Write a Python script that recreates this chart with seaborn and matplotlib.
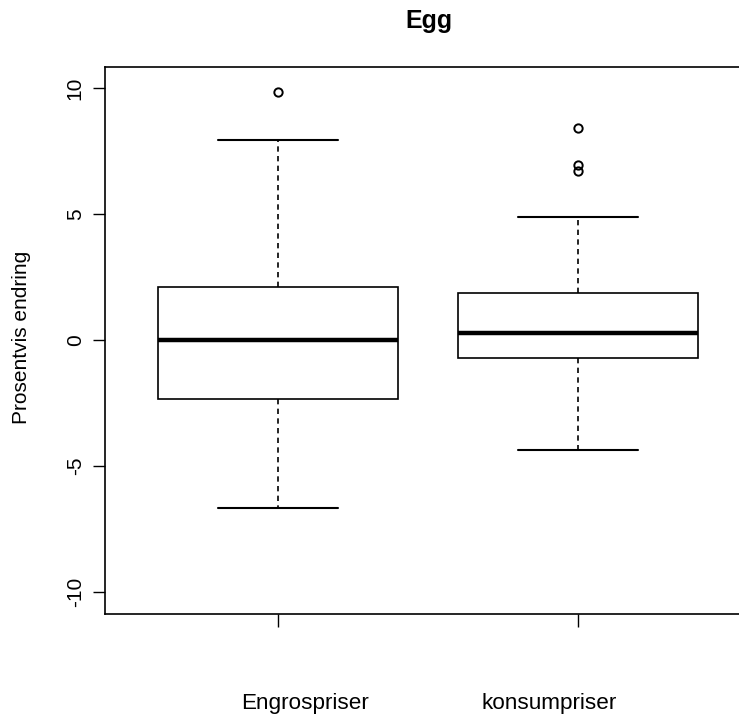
import matplotlib
matplotlib.use("Agg")
import matplotlib.pyplot as plt
import matplotlib.transforms as mtransforms
import seaborn as sns
import pandas as pd

# ---- data ----
categories = ["Engrospriser", "konsumpriser"]
# sample points reproducing the five-number summaries and outliers
engros_values = [-6.65, -2.35, -2.35, 0.0, 0.0, 0.0, 2.12, 7.95, 9.85]
konsum_values = [-4.35, -0.7, -0.7, -0.7, -0.7, 0.28, 0.28, 0.28, 0.28,
                 1.85, 1.85, 1.85, 1.85, 4.9, 6.7, 6.95, 8.4]
y_ticks = [-10, -5, 0, 5, 10]
title = "Egg"
y_label = "Prosentvis endring"
label_offsets = [0.09, -0.097]   # x-label horizontal offsets (category units)

df = pd.DataFrame({
    "gruppe": [categories[0]] * len(engros_values) + [categories[1]] * len(konsum_values),
    "verdi": engros_values + konsum_values,
})

sns.set_style("ticks")
plt.rcParams["font.family"] = ["Liberation Sans", "DejaVu Sans"]
plt.rcParams["axes.unicode_minus"] = False

W, H = 739, 717
fig = plt.figure(figsize=(W / 100, H / 100), dpi=100)
ax_left, ax_right, ax_top, ax_bottom = 105, 752, 67, 614
ax = fig.add_axes([ax_left / W, (H - ax_bottom) / H,
                   (ax_right - ax_left) / W, (ax_bottom - ax_top) / H])

lw = 1.2
sns.boxplot(
    data=df, x="gruppe", y="verdi", order=categories, ax=ax,
    color="white", saturation=1, linecolor="black", linewidth=lw,
    width=0.8, whis=1.5,
    boxprops=dict(edgecolor="black", linewidth=lw),
    whiskerprops=dict(color="black", linewidth=lw, linestyle=(0, (3.2, 2.6))),
    capprops=dict(color="black", linewidth=lw + 0.3),
    medianprops=dict(color="black", linewidth=3.2, solid_capstyle="butt"),
    flierprops=dict(marker="o", markerfacecolor="none", markeredgecolor="black",
                    markersize=6, markeredgewidth=1.4),
)

ax.set_xlim(-0.577, 1.58)
ax.set_ylim(-10.86, 10.83)
ax.set_yticks(y_ticks)
ax.set_yticklabels([str(v) for v in y_ticks], rotation=90, va="center", fontsize=15)
ax.set_xticks(range(len(categories)))
ax.set_xticklabels(["" for _ in categories])
ax.set_xlabel("")
ax.tick_params(axis="both", direction="out", length=9, width=1.0, color="black",
               labelcolor="black")
ax.tick_params(axis="y", pad=5.5)

for s in ax.spines.values():
    s.set_visible(True)
    s.set_color("black")
    s.set_linewidth(1.2)

# category labels below the axis
trans = mtransforms.blended_transform_factory(ax.transData, ax.transAxes)
label_y = (ax_bottom - 709) / (ax_bottom - ax_top)
for i, (cat, off) in enumerate(zip(categories, label_offsets)):
    ax.text(i + off, label_y, cat, transform=trans, ha="center", va="baseline",
            fontsize=16.2, color="black")

ax.set_ylabel(y_label, fontsize=15, color="black")
ax.yaxis.set_label_coords((31.5 - ax_left) / (ax_right - ax_left), 0.505)

ax.set_title(title, fontsize=18, fontweight="bold", pad=28, color="black")

fig.savefig("out.png", dpi=100, facecolor="white")
